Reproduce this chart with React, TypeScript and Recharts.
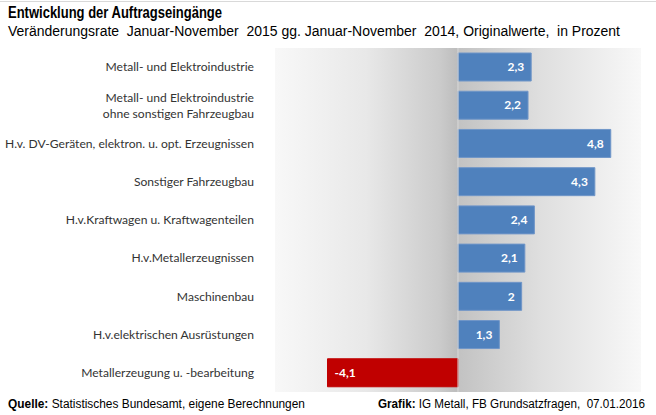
import React from "react";
import {
  BarChart,
  Bar,
  XAxis,
  YAxis,
  Cell,
  LabelList,
  ReferenceArea,
  ReferenceLine,
} from "recharts";

const categories = [
  "Metall- und Elektroindustrie",
  "Metall- und Elektroindustrie\nohne sonstigen Fahrzeugbau",
  "H.v. DV-Geräten, elektron. u. opt. Erzeugnissen",
  "Sonstiger Fahrzeugbau",
  "H.v.Kraftwagen u. Kraftwagenteilen",
  "H.v.Metallerzeugnissen",
  "Maschinenbau",
  "H.v.elektrischen Ausrüstungen",
  "Metallerzeugung u. -bearbeitung",
];

const changeRates = [2.3, 2.2, 4.8, 4.3, 2.4, 2.1, 2.0, 1.3, -4.1];

const xDomain: [number, number] = [-5.75, 5.75];

const chartData = categories.map((name, i) => ({
  name,
  value: changeRates[i],
}));

const labelFont = "Lato, 'Open Sans', sans-serif";

// format value like the original: comma as decimal separator
const formatValue = (v: number) =>
  Number.isInteger(v) ? String(v) : v.toFixed(1).replace(".", ",");

const CategoryTick = (props: any) => {
  const { x, y, payload } = props;
  const lines = String(payload.value).split("\n");
  const lineHeight = 16;
  const startY = y - ((lines.length - 1) * lineHeight) / 2;
  return (
    <text
      x={x}
      y={startY}
      textAnchor="end"
      fontFamily={labelFont}
      fontSize={12.1}
      fill="#333"
    >
      {lines.map((line, i) => (
        <tspan key={i} x={x} y={startY + i * lineHeight} dy="0.35em">
          {line}
        </tspan>
      ))}
    </text>
  );
};

const BarValueLabel = (props: any) => {
  const { x, y, width, height, value } = props;
  const negative = value < 0;
  const left = Math.min(x, x + width);
  const right = Math.max(x, x + width);
  return (
    <text
      x={negative ? left + 7 : right - 7}
      y={y + height / 2}
      dy="0.35em"
      textAnchor={negative ? "start" : "end"}
      fontFamily={labelFont}
      fontWeight="bold"
      fontSize={12}
      fill="#fff"
    >
      {formatValue(value)}
    </text>
  );
};

const App: React.FC = () => {
  return (
    <div
      style={{
        position: "relative",
        width: 656,
        height: 415,
        background: "#fff",
        overflow: "hidden",
      }}
    >
      <style>{"body{margin:0}"}</style>
      <svg width={0} height={0} style={{ position: "absolute" }}>
        <defs>
          <linearGradient id="plotBg" x1="0" y1="0" x2="1" y2="0">
            <stop offset="0" stopColor="#f8f8f8" />
            <stop offset="0.25" stopColor="#e8e8e8" />
            <stop offset="0.45" stopColor="#cbcbcb" />
            <stop offset="0.497" stopColor="#bdbdbd" />
            <stop offset="0.497" stopColor="#c2c2c2" />
            <stop offset="0.72" stopColor="#dedede" />
            <stop offset="1" stopColor="#f8f8f8" />
          </linearGradient>
        </defs>
      </svg>

      <BarChart
        width={656}
        height={415}
        layout="vertical"
        data={chartData}
        barSize={28}
        margin={{ top: 48, right: 15, bottom: 23, left: 0 }}
      >
        <XAxis type="number" domain={xDomain} hide allowDataOverflow />
        <YAxis
          type="category"
          dataKey="name"
          width={275}
          axisLine={false}
          tickLine={false}
          tickSize={0}
          tickMargin={21}
          interval={0}
          tick={<CategoryTick />}
        />
        <ReferenceArea
          x1={xDomain[0]}
          x2={xDomain[1]}
          fill="url(#plotBg)"
          fillOpacity={1}
          strokeWidth={0}
        />
        <ReferenceLine x={0} stroke="#d6d6d6" strokeWidth={1} />
        <Bar dataKey="value" isAnimationActive={false}>
          {chartData.map((d, i) => (
            <Cell
              key={i}
              fill={d.value < 0 ? "#c00000" : "#4f81bd"}
              stroke={d.value < 0 ? "#c00000" : "#7096c8"}
              strokeWidth={1}
            />
          ))}
          <LabelList dataKey="value" content={<BarValueLabel />} />
        </Bar>
      </BarChart>

      {/* title, subtitle and footer notes */}
      <svg
        width={656}
        height={415}
        style={{ position: "absolute", left: 0, top: 0, pointerEvents: "none" }}
      >
        <line x1={0} y1={1.5} x2={656} y2={1.5} stroke="#d9d9d9" />
        <text
          x={8}
          y={18}
          fontFamily="'Liberation Sans', Arial, sans-serif"
          fontWeight="bold"
          fontSize={16}
          fill="#000"
          textLength={214}
          lengthAdjust="spacingAndGlyphs"
        >
          Entwicklung der Auftragseingänge
        </text>
        <text
          x={8}
          y={36}
          fontFamily="'Liberation Sans', Arial, sans-serif"
          fontSize={14}
          fill="#000"
          textLength={612}
          lengthAdjust="spacingAndGlyphs"
          style={{ whiteSpace: "pre" }}
        >
          {"Veränderungsrate  Januar-November  2015 gg. Januar-November  2014, Originalwerte,  in Prozent"}
        </text>
        <text
          x={8}
          y={408}
          fontFamily="'Liberation Sans', Arial, sans-serif"
          fontSize={12}
          fill="#000"
          textLength={297}
          lengthAdjust="spacingAndGlyphs"
        >
          <tspan fontWeight="bold">Quelle:</tspan> Statistisches Bundesamt, eigene Berechnungen
        </text>
        <text
          x={378}
          y={408}
          fontFamily="'Liberation Sans', Arial, sans-serif"
          fontSize={12}
          fill="#000"
          textLength={267}
          lengthAdjust="spacingAndGlyphs"
          style={{ whiteSpace: "pre" }}
        >
          <tspan fontWeight="bold">Grafik:</tspan>
          {" IG Metall, FB Grundsatzfragen,  07.01.2016"}
        </text>
      </svg>
    </div>
  );
};

export default App;
